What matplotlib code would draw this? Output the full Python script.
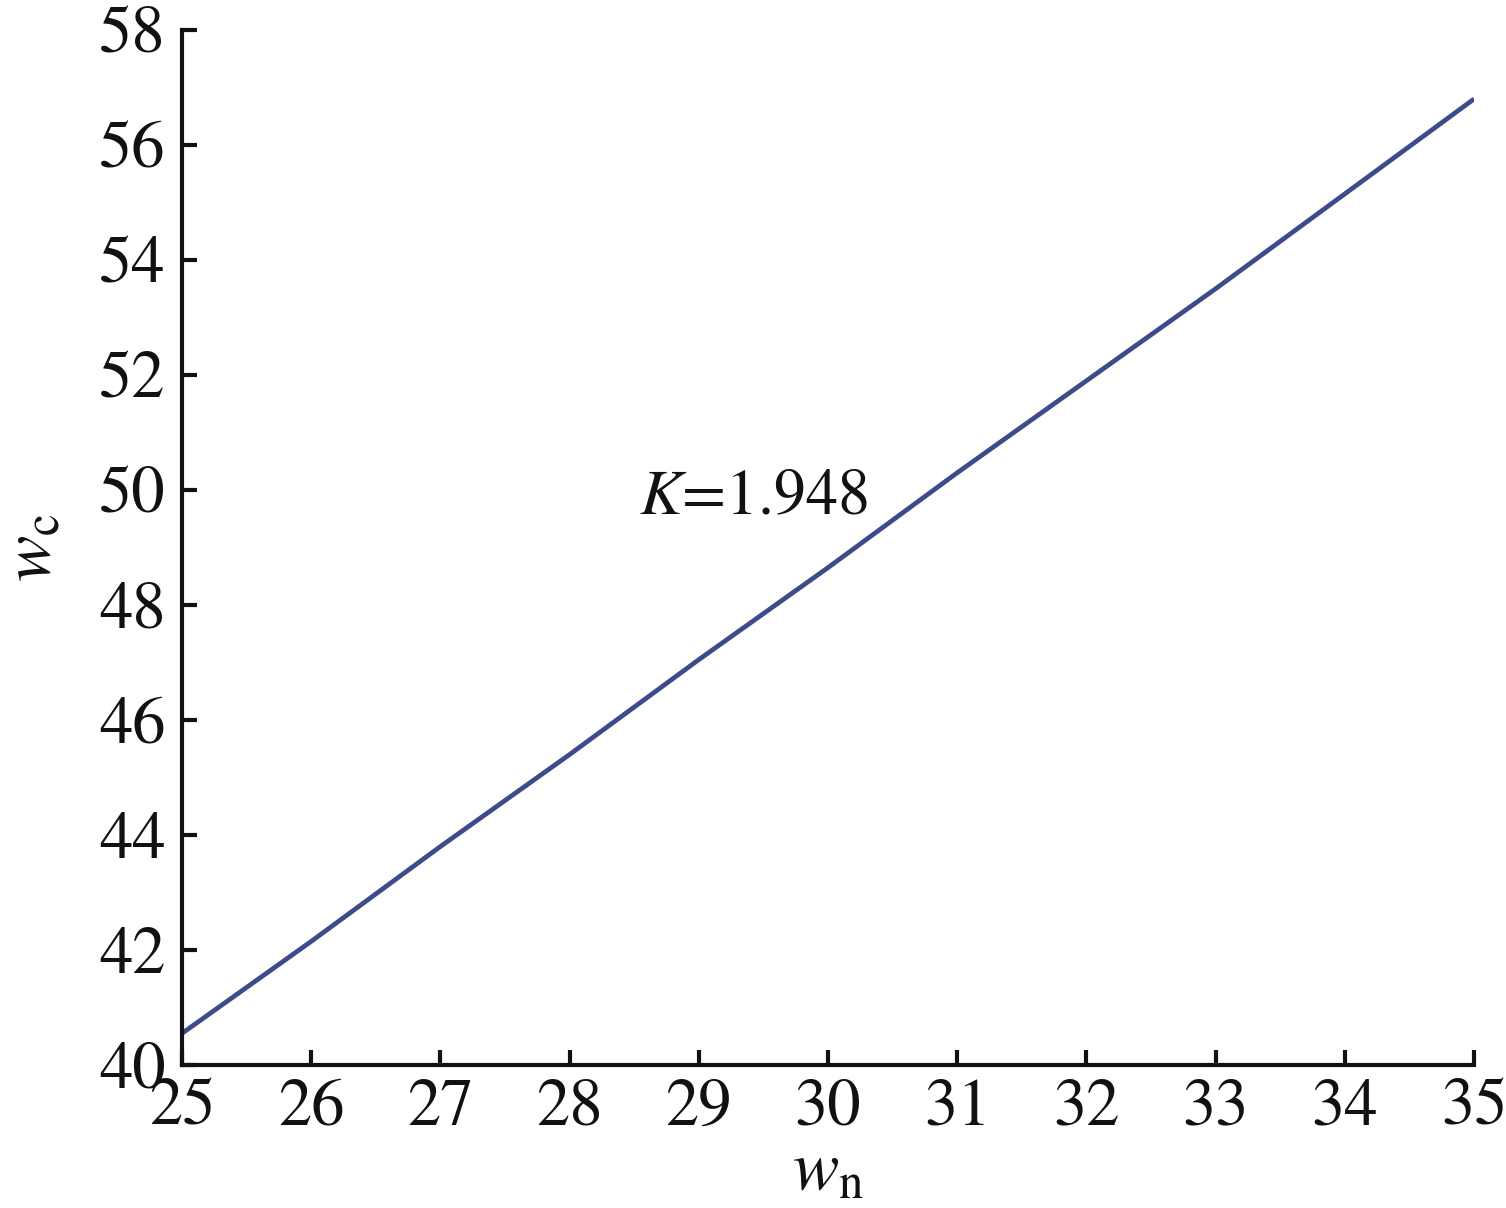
import matplotlib
matplotlib.use("Agg")
import matplotlib.pyplot as plt

w_n = [25, 26, 27, 28, 29, 30, 31, 32, 33, 34, 35]
w_c = [40.55, 42.15, 43.8, 45.4, 47.05, 48.65, 50.3, 51.9, 53.5, 55.15, 56.8]
x_ticks = [25, 26, 27, 28, 29, 30, 31, 32, 33, 34, 35]
y_ticks = [40, 42, 44, 46, 48, 50, 52, 54, 56, 58]
annotation = r"$K$=1.948"

plt.rcParams['font.family'] = ['STIXGeneral', 'Liberation Serif', 'DejaVu Serif']
plt.rcParams['mathtext.fontset'] = 'stix'

fig = plt.figure(figsize=(15.06, 12.08), dpi=100)
ax = fig.add_axes([0.1209, 0.1184, 0.8579, 0.8568])

ax.plot(w_n, w_c, color='#3d4a8c', linewidth=3.4, solid_capstyle='butt')

ax.set_xlim(25, 35)
ax.set_ylim(40, 58)
ax.set_xticks(x_ticks)
ax.set_yticks(y_ticks)

for s in ['top', 'right']:
    ax.spines[s].set_visible(False)
for s in ['left', 'bottom']:
    ax.spines[s].set_linewidth(3.0)
    ax.spines[s].set_color('#111111')

ax.tick_params(axis='both', direction='in', length=11, width=3.0,
               labelsize=48, color='#111111', labelcolor='#111111')
ax.tick_params(axis='y', pad=12)
ax.tick_params(axis='x', pad=10)

ax.text(28.54, 49.57, annotation, fontsize=46, color='#111111',
        ha='left', va='baseline')

ax.set_xlabel(r"$w_{\mathrm{n}}$", fontsize=50, labelpad=2, color='#111111')
ax.set_ylabel(r"$w_{\mathrm{c}}$", fontsize=50, labelpad=24, color='#111111')

fig.savefig("out.png", dpi=100)
